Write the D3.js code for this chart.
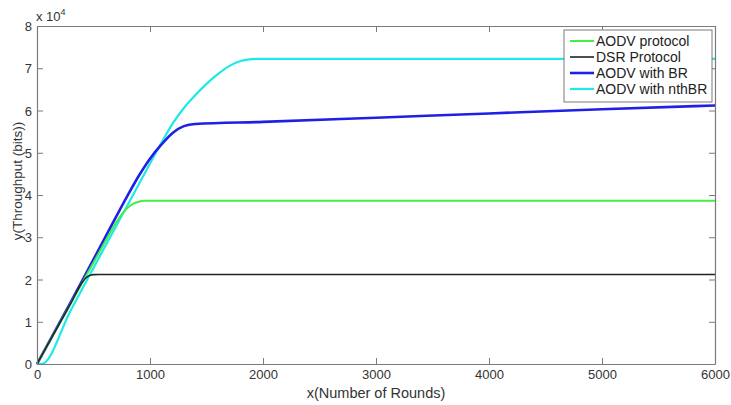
<!DOCTYPE html>
<html>
<head>
<meta charset="utf-8">
<script src="https://cdn.jsdelivr.net/npm/d3@7"></script>
<style>
  body { margin: 0; background: #fff; }
  svg { display: block; font-family: "Liberation Sans", Arial, sans-serif; }
</style>
</head>
<body>
<svg id="chart" width="731" height="405"></svg>
<script>
// ---- data ----
const xTicks = [0, 1000, 2000, 3000, 4000, 5000, 6000];
const yTicks = [0, 1, 2, 3, 4, 5, 6, 7, 8]; // x 10^4
const seriesNames = ["AODV protocol", "DSR Protocol", "AODV with BR", "AODV with nthBR"];
const seriesColors = ["#44ee44", "#222222", "#1f1fe6", "#1ee8e8"];

const aodvRounds = [0, 300, 600, 700, 750, 800, 850, 900, 950, 1000, 6000];
const aodvValues = [0, 14400, 28800, 33500, 35400, 36900, 37900, 38400, 38620, 38650, 38650];

const dsrRounds = [0, 300, 400, 430, 460, 500, 550, 6000];
const dsrValues = [0, 14400, 19300, 20300, 20900, 21150, 21200, 21200];

const brRounds = [0, 300, 600, 800, 900, 1000, 1100, 1200, 1300, 1400, 2000, 3000, 4000, 5000, 6000];
const brValues = [0, 14700, 29800, 39800, 44500, 48600, 51900, 54700, 56300, 56800, 57300, 58300, 59300, 60300, 61200];

const nthRounds = [0, 40, 300, 600, 900, 1100, 1200, 1300, 1400, 1500, 1600, 1700, 1800, 1900, 1950, 6000];
const nthValues = [0, 0, 12800, 27700, 42500, 52300, 56900, 60600, 63600, 66300, 68600, 70500, 71700, 72150, 72200, 72200];

// ---- layout ----
const svg = d3.select("#chart");
const L = 37, R = 715, T = 26, B = 364;
const x = d3.scaleLinear().domain([0, 6000]).range([L, R]);
const y = d3.scaleLinear().domain([0, 80000]).range([B, T]);
const axisColor = "#7a7a7a";
const textColor = "#333";

svg.append("rect").attr("x", L).attr("y", T).attr("width", R - L).attr("height", B - T).attr("fill", "#fff");

// ---- series ----
const series = [
  { name: seriesNames[0], color: seriesColors[0], w: 2, xs: aodvRounds, ys: aodvValues },
  { name: seriesNames[1], color: seriesColors[1], w: 1.6, xs: dsrRounds, ys: dsrValues },
  { name: seriesNames[2], color: seriesColors[2], w: 2.6, xs: brRounds, ys: brValues },
  { name: seriesNames[3], color: seriesColors[3], w: 2.2, xs: nthRounds, ys: nthValues }
];
const line = d3.line().x(d => x(d[0])).y(d => y(d[1])).curve(d3.curveMonotoneX);
const drawOrder = [3, 2, 0, 1];
drawOrder.forEach(i => {
  const s = series[i];
  svg.append("path")
    .datum(s.xs.map((v, k) => [v, s.ys[k]]))
    .attr("d", line)
    .attr("fill", "none")
    .attr("stroke", s.color)
    .attr("stroke-width", s.w)
    .attr("stroke-linejoin", "round");
});

// ---- axes (MATLAB style box with inward ticks) ----
const tickLen = 6;
const gx = svg.append("g").attr("transform", `translate(0,${B})`)
  .call(d3.axisBottom(x).tickValues(xTicks).tickSizeInner(-tickLen).tickSizeOuter(0).tickPadding(6).tickFormat(d3.format("d")));
const gxTop = svg.append("g").attr("transform", `translate(0,${T})`)
  .call(d3.axisTop(x).tickValues(xTicks).tickSizeInner(-tickLen).tickSizeOuter(0).tickFormat(""));
const gy = svg.append("g").attr("transform", `translate(${L},0)`)
  .call(d3.axisLeft(y).tickValues(yTicks.map(v => v * 10000)).tickSizeInner(-tickLen).tickSizeOuter(0).tickPadding(5).tickFormat(d => d / 10000));
const gyR = svg.append("g").attr("transform", `translate(${R},0)`)
  .call(d3.axisRight(y).tickValues(yTicks.map(v => v * 10000)).tickSizeInner(-tickLen).tickSizeOuter(0).tickFormat(""));

[gx, gxTop, gy, gyR].forEach(g => {
  g.selectAll(".domain").attr("stroke", axisColor).attr("stroke-width", 1.2);
  g.selectAll(".tick line").attr("stroke", axisColor);
  g.selectAll("text").attr("fill", textColor).attr("font-size", 13)
    .attr("font-family", "'Liberation Sans', Arial, sans-serif");
});
gy.selectAll("text").attr("dy", "0.35em");

// exponent label
const ex = svg.append("text").attr("x", L - 1).attr("y", 21).attr("fill", textColor)
  .attr("font-size", 13);
ex.append("tspan").text("x 10");
ex.append("tspan").attr("font-size", 9).attr("dy", -6).text("4");

// axis labels
svg.append("text").attr("x", (L + R) / 2).attr("y", 398).attr("text-anchor", "middle")
  .attr("fill", textColor).attr("font-size", 14.5).text("x(Number of Rounds)");
svg.append("text").attr("transform", `translate(22,${(T + B) / 2 - 14}) rotate(-90)`)
  .attr("text-anchor", "middle").attr("fill", textColor).attr("font-size", 13.5)
  .text("y(Throughput (bits))");

// ---- legend ----
const lg = svg.append("g");
const lgX = 564, lgY = 30, lgW = 148, lgH = 72;
lg.append("rect").attr("x", lgX).attr("y", lgY).attr("width", lgW).attr("height", lgH)
  .attr("fill", "#fff").attr("stroke", "#7a7a7a").attr("stroke-width", 1);
series.forEach((s, i) => {
  const yy = lgY + 11 + i * 16;
  lg.append("line").attr("x1", lgX + 6).attr("x2", lgX + 30).attr("y1", yy).attr("y2", yy)
    .attr("stroke", s.color).attr("stroke-width", s.w);
  lg.append("text").attr("x", lgX + 32).attr("y", yy).attr("dy", "0.36em")
    .attr("fill", "#222").attr("font-size", 14).text(s.name);
});
</script>
</body>
</html>
